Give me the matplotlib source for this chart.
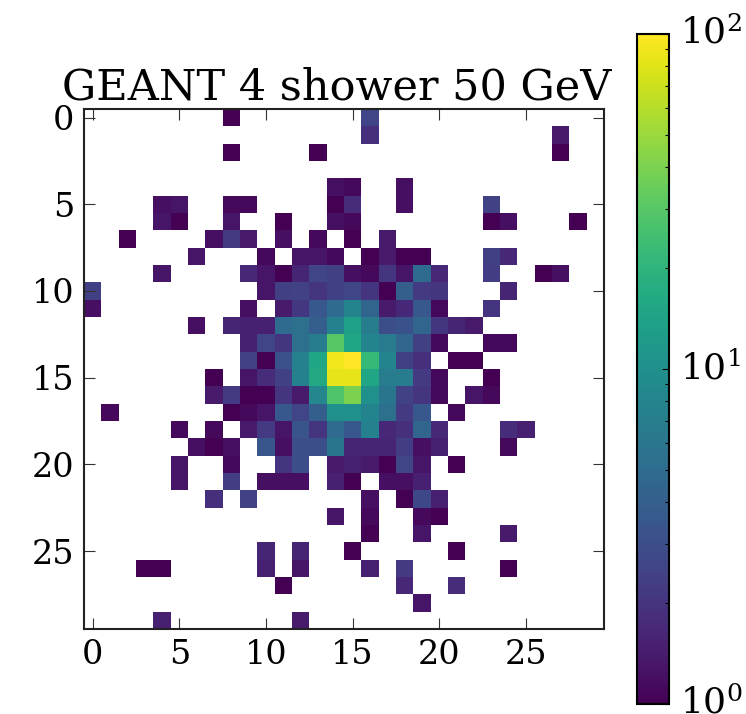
import numpy as np
import matplotlib
matplotlib.use("Agg")
import matplotlib.pyplot as plt
from matplotlib.colors import LogNorm
from matplotlib.transforms import ScaledTranslation

title = "GEANT 4 shower 50 GeV"
x_ticks = [0, 5, 10, 15, 20, 25]
y_ticks = [0, 5, 10, 15, 20, 25]
grid_size = 30

# deposited energy per cell: one {column: value} mapping per row
shower_rows = [
    {8: 1, 16: 2.6},
    {16: 1.9, 27: 1.4},
    {8: 1, 13: 1, 27: 1},
    {},
    {14: 1.2, 15: 1.1, 18: 1.2},
    {4: 1.2, 5: 1.3, 8: 1.1, 9: 1.1, 14: 1, 15: 1.8, 18: 1.2, 23: 2.5},
    {4: 1.3, 5: 1, 8: 1.3, 11: 1, 14: 1.2, 15: 1.1, 23: 1, 24: 1.2, 28: 1},
    {2: 1, 7: 1.2, 8: 2.2, 9: 1.4, 11: 1.2, 13: 1.1, 15: 1, 17: 1.4},
    {6: 1.3, 10: 1.1, 12: 1.3, 13: 1.3, 14: 1.1, 16: 1, 17: 1.4, 18: 1, 19: 1, 23: 2.4, 24: 1.7},
    {4: 1.3, 9: 1.7, 10: 1.3, 11: 1, 12: 1.6, 13: 2.6, 14: 2.4, 15: 1.2, 16: 1.1, 17: 2, 18: 1.3,
     19: 5, 20: 1.7, 23: 2.3, 26: 1, 27: 1.2},
    {0: 2.4, 10: 1.3, 11: 2.4, 12: 2.5, 13: 2, 14: 2.4, 15: 2.6, 16: 2, 17: 1, 18: 4, 19: 2.2,
     20: 2, 24: 1.6},
    {0: 1.2, 9: 1.2, 11: 1.4, 12: 2.1, 13: 3.5, 14: 5, 15: 8, 16: 4.5, 17: 1.4, 18: 1.7, 19: 3.5,
     20: 1.1, 23: 2},
    {6: 1.2, 8: 1.6, 9: 1.5, 10: 1.5, 11: 5, 12: 5.5, 13: 4, 14: 7.5, 15: 14, 16: 7, 17: 3, 18: 3.2,
     19: 4.5, 20: 2, 21: 1.6, 22: 1.4},
    {9: 1.5, 10: 2.6, 11: 2, 12: 5.5, 13: 7, 14: 30, 15: 15, 16: 8, 17: 6.5, 18: 4.5, 19: 2.4,
     20: 1.1, 23: 1.1, 24: 1.1},
    {9: 2.5, 10: 1, 11: 3.2, 12: 7.5, 13: 15, 14: 90, 15: 100, 16: 22, 17: 8, 18: 2.4, 19: 1.9,
     21: 1, 22: 1},
    {7: 1, 9: 1.3, 10: 1.8, 11: 2.4, 12: 7.5, 13: 16, 14: 85, 15: 85, 16: 15, 17: 7, 18: 7,
     19: 2.2, 20: 1.1, 23: 1},
    {7: 1.4, 8: 2.2, 9: 1, 10: 1, 11: 2, 12: 1.4, 13: 8.5, 14: 28, 15: 40, 16: 10, 17: 6, 18: 2.5,
     19: 2, 20: 1.1, 22: 1.3, 23: 1.1},
    {1: 1.1, 8: 1, 9: 1.1, 10: 1.3, 11: 3.5, 12: 2.6, 13: 4, 14: 10, 15: 10, 16: 8, 17: 5.5,
     18: 2.2, 19: 3.5, 21: 1.1},
    {5: 1.1, 7: 1.1, 9: 1.4, 10: 2.2, 11: 1.3, 12: 3.3, 13: 2, 14: 5, 15: 3.5, 16: 7.5, 17: 1.7,
     18: 1.9, 19: 4.5, 20: 1.7, 24: 1.8, 25: 1.5},
    {6: 1.2, 7: 1, 8: 1.2, 10: 3.4, 11: 1.2, 12: 3, 13: 3, 14: 6, 15: 1.6, 16: 1.6, 17: 1.6,
     18: 2.3, 19: 1.2, 20: 1.5, 24: 1.1},
    {5: 1.3, 8: 1.1, 11: 2, 12: 3, 14: 1.4, 15: 1.5, 16: 1.4, 17: 1, 18: 2.6, 19: 1.3, 21: 1},
    {5: 1.3, 8: 2.3, 10: 1.2, 11: 1.2, 12: 1.2, 14: 1.5, 15: 1, 17: 1.2, 18: 1.2, 19: 1.5},
    {7: 1.9, 9: 2.5, 16: 1.2, 18: 1, 19: 2.7, 20: 1.5},
    {14: 1.3, 16: 1.1, 19: 1.1, 20: 1},
    {16: 1, 19: 1.3, 24: 1.4},
    {10: 1.6, 12: 1.6, 15: 1, 21: 1},
    {3: 1, 4: 1, 10: 1.5, 12: 1.3, 16: 1.5, 18: 2.2, 24: 1},
    {11: 1, 18: 1.7, 21: 1.8},
    {19: 1.3},
    {4: 1.5, 12: 1.4},
]

energy = np.full((grid_size, grid_size), np.nan)
for r, row in enumerate(shower_rows):
    for c, v in row.items():
        energy[r, c] = v

plt.rcParams['font.family'] = ['DejaVu Serif']
plt.rcParams['mathtext.fontset'] = 'dejavuserif'

W, H = 746, 714
fig = plt.figure(figsize=(W / 100, H / 100), dpi=100)
ax = fig.add_axes([84 / W, 1 - 629 / H, 520 / W, 520 / H])
cax = fig.add_axes([637 / W, 1 - 704 / H, 32 / W, 670 / H])

im = ax.imshow(energy, cmap='viridis', norm=LogNorm(vmin=1, vmax=100),
               interpolation='nearest', aspect='equal')
ax.set_xticks(x_ticks)
ax.set_yticks(y_ticks)
ax.tick_params(direction='in', length=8, width=0.8, top=True, right=True,
               labelsize=24, pad=7, color='#333333')
ax.set_title(title, fontsize=31, pad=6.5, x=0.4865)
for s in ax.spines.values():
    s.set_linewidth(1.5)
    s.set_color('#222222')

cb = fig.colorbar(im, cax=cax)
cb.ax.tick_params(which='major', direction='in', length=5, width=0.8, labelsize=26, pad=8)
cb.ax.tick_params(which='minor', direction='in', length=3, width=0.8)
cb.outline.set_linewidth(1.5)

# the reference sets the colorbar labels a little above their ticks
shift = ScaledTranslation(0, 4 / 72 * 0.72 * 100 / 100 * 72 / 72, fig.dpi_scale_trans)
fig.canvas.draw()
for lab in cb.ax.get_yticklabels():
    lab.set_transform(lab.get_transform() + ScaledTranslation(0, 0.04, fig.dpi_scale_trans))

fig.savefig('out.png', dpi=100)
